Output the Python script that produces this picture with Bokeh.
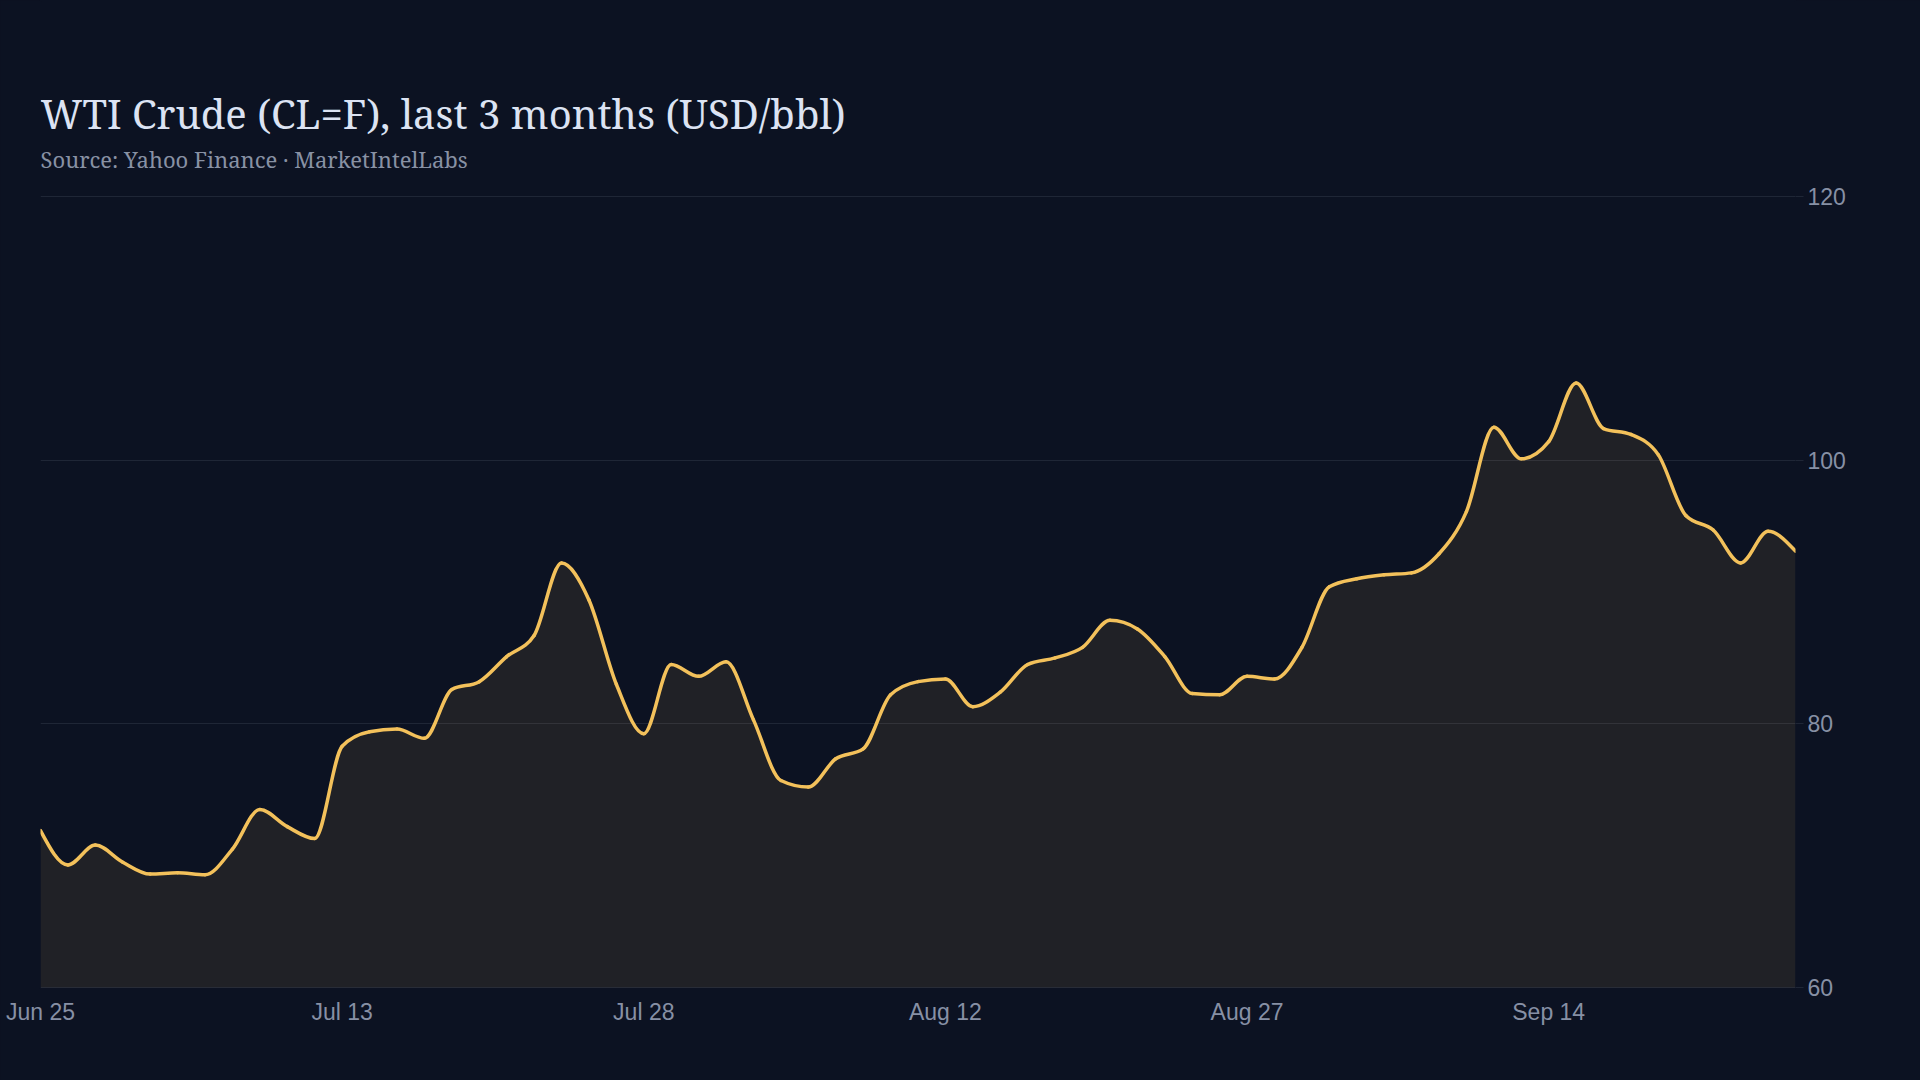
import numpy as np
from bokeh.plotting import figure
from bokeh.models import (ColumnDataSource, FixedTicker, GlobalInlineStyleSheet,
                          Label, Range1d)
from bokeh.embed import file_html
from bokeh.resources import INLINE

# WTI front-month close, one value per trading day (Jun 25 .. Sep 25)
price = [71.9, 69.3, 70.8, 69.5, 68.6, 68.7, 68.55, 70.5, 73.5, 72.2,
         71.3, 78.3, 79.4, 79.6, 78.9, 82.6, 83.2, 85.1, 86.7, 92.2,
         89.4, 83.0, 79.25, 84.5, 83.6, 84.7, 80.3, 75.7, 75.2, 77.35,
         78.1, 82.2, 83.2, 83.4, 81.3, 82.4, 84.5, 85.0, 85.8, 87.85,
         87.2, 85.1, 82.3, 82.2, 83.6, 83.4, 85.8, 90.4, 91.0, 91.3,
         91.45, 92.9, 96.1, 102.5, 100.1, 101.4, 105.85, 102.4, 101.95, 100.4,
         95.8, 94.7, 92.2, 94.6, 93.1]

# every 11th trading day gets a label
tick_days = [0, 11, 22, 33, 44, 55]
tick_labels = ["Jun 25", "Jul 13", "Jul 28", "Aug 12", "Aug 27", "Sep 14"]
y_ticks = [60, 80, 100, 120]
y_min, y_max = 60, 120

title_text = "WTI Crude (CL=F), last 3 months (USD/bbl)"
subtitle_text = "Source: Yahoo Finance \u00b7 MarketIntelLabs"

BG = "#0c1222"
GOLD = "#f3c15b"
GRID = "#1f2636"
MUTED = "#8790a5"

day = np.arange(len(price), dtype=float)
y = np.array(price, dtype=float)

# monotone cubic tangents (like d3 curveMonotoneX), unit spacing in x
s = np.diff(y)
t = np.zeros(len(y))
for i in range(1, len(y) - 1):
    s0, s1 = s[i - 1], s[i]
    p_ = (s0 + s1) / 2
    t[i] = (np.sign(s0) + np.sign(s1)) * min(abs(s0), abs(s1), 0.5 * abs(p_))
t[0] = (3 * s[0] - t[1]) / 2
t[-1] = (3 * s[-1] - t[-2]) / 2

seg = dict(x0=day[:-1], y0=y[:-1], x1=day[1:], y1=y[1:],
           cx0=day[:-1] + 1 / 3, cy0=y[:-1] + t[:-1] / 3,
           cx1=day[1:] - 1 / 3, cy1=y[1:] - t[1:] / 3)

# outline of the smoothed curve for the area under it
u = np.linspace(0, 1, 13)[:-1][:, None]
bx = ((1 - u) ** 3 * seg["x0"] + 3 * (1 - u) ** 2 * u * seg["cx0"]
      + 3 * (1 - u) * u ** 2 * seg["cx1"] + u ** 3 * seg["x1"]).T.ravel()
by = ((1 - u) ** 3 * seg["y0"] + 3 * (1 - u) ** 2 * u * seg["cy0"]
      + 3 * (1 - u) * u ** 2 * seg["cy1"] + u ** 3 * seg["y1"]).T.ravel()
bx = np.append(bx, day[-1])
by = np.append(by, y[-1])

# the frame runs up to the top of the page so the heading can live inside it;
# 60..120 spans 791 px, with 196 px of headroom above 120
H, bottom = 1080, 92
ppu = 791 / (y_max - y_min)
y_lo = y_min - 1 / ppu
y_hi = y_lo + (H - bottom) / ppu

p = figure(width=1920, height=H, title=None,
           x_range=Range1d(day[0], day[-1]), y_range=Range1d(y_lo, y_hi),
           y_axis_location="right", toolbar_location=None, output_backend="svg",
           min_border_left=40, min_border_right=125,
           min_border_top=0, min_border_bottom=bottom,
           background_fill_color=BG, border_fill_color=BG)
# paint over the light seam svg leaves around the frame
p.outline_line_color = BG
p.outline_line_width = 2
p.stylesheets = [GlobalInlineStyleSheet(css="html, body { background: %s; }" % BG)]

p.varea(x=bx, y1=y_min, y2=by, fill_color=GOLD, fill_alpha=0.09)
p.bezier(x0="x0", y0="y0", x1="x1", y1="y1", cx0="cx0", cy0="cy0",
         cx1="cx1", cy1="cy1", source=ColumnDataSource(seg),
         line_color=GOLD, line_width=3.5, line_cap="round")

# grid
p.xgrid.visible = False
p.ygrid.ticker = FixedTicker(ticks=y_ticks)
p.ygrid.grid_line_color = GRID
p.ygrid.grid_line_width = 1

# x axis
p.xaxis.ticker = FixedTicker(ticks=tick_days)
p.xaxis.major_label_overrides = {d: l for d, l in zip(tick_days, tick_labels)}
p.xaxis.axis_line_color = None
p.xaxis.major_tick_line_color = None
p.xaxis.major_tick_out = 0
p.xaxis.major_tick_in = 0
p.xaxis.minor_tick_line_color = None
p.xaxis.major_label_standoff = 10

# y axis
p.yaxis.ticker = FixedTicker(ticks=y_ticks)
p.yaxis.axis_line_color = None
p.yaxis.major_tick_line_color = GRID
p.yaxis.major_tick_out = 8
p.yaxis.major_tick_in = 0
p.yaxis.minor_tick_line_color = None
p.yaxis.major_label_standoff = 4

p.axis.major_label_text_font = "Liberation Sans"
p.axis.major_label_text_font_size = "23px"
p.axis.major_label_text_color = MUTED

# heading, anchored to the top-left corner of the 60..120 area
p.add_layout(Label(x=day[0], y=y_max, y_offset=83, text=title_text,
                   text_font="Noto Serif", text_font_size="40px",
                   text_color="#dce3f3", text_baseline="alphabetic"))
p.add_layout(Label(x=day[0], y=y_max, y_offset=38, text=subtitle_text,
                   text_font="Noto Serif", text_font_size="22px",
                   text_color="#8891a4", text_baseline="alphabetic"))

open("out.html", "w").write(file_html(p, INLINE))
